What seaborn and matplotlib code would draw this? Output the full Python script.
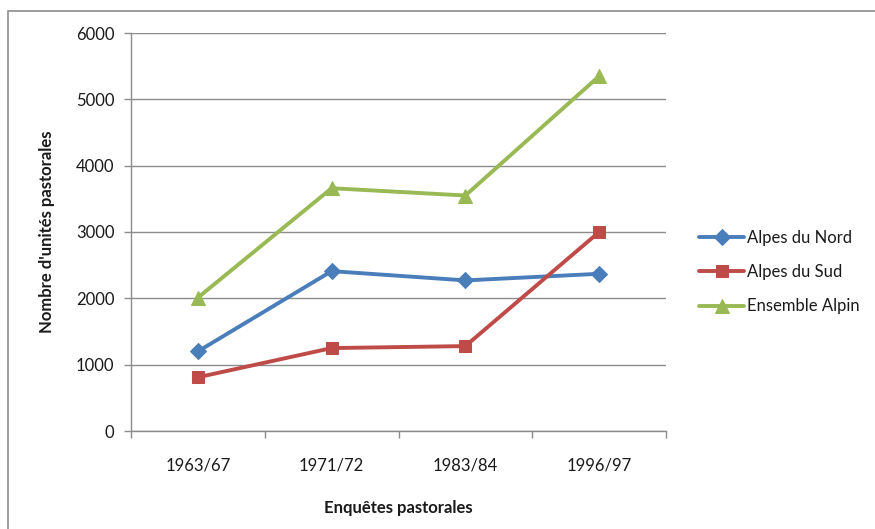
import matplotlib
matplotlib.use("Agg")
import matplotlib.pyplot as plt
import seaborn as sns
import pandas as pd
from matplotlib.patches import Rectangle

# Survey campaigns and headcounts of pastoral units
enquetes = ["1963/67", "1971/72", "1983/84", "1996/97"]
alpes_nord = [1200, 2410, 2270, 2370]
alpes_sud = [810, 1250, 1280, 3000]
ensemble_alpin = [2010, 3660, 3550, 5350]

series = ["Alpes du Nord", "Alpes du Sud", "Ensemble Alpin"]
couleurs = ["#4A7EBB", "#BE4B48", "#98B954"]
marqueurs = ["D", "s", "^"]
tailles = [8, 9, 10]

df = pd.DataFrame({
    "enquete": enquetes * 3,
    "x": list(range(len(enquetes))) * 3,
    "valeur": alpes_nord + alpes_sud + ensemble_alpin,
    "serie": [s for s in series for _ in enquetes],
})

sns.set_theme(style="white")
plt.rcParams["font.family"] = ["Lato", "DejaVu Sans"]
FS = 12

fig = plt.figure(figsize=(8.75, 5.29), dpi=100)
W, H = 875, 529
ax = fig.add_axes([131 / W, 1 - 431 / H, (666 - 131) / W, (431 - 33) / H])

for serie, c, m, ms in zip(series, couleurs, marqueurs, tailles):
    sub = df[df["serie"] == serie]
    sns.lineplot(data=sub, x="x", y="valeur", ax=ax, color=c, marker=m,
                 markersize=ms, markeredgecolor=c, linewidth=2.8,
                 label=serie, legend=False)

ax.set_xlim(-0.5, len(enquetes) - 0.5)
ax.set_ylim(0, 6000)
ax.set_yticks(range(0, 6001, 1000))
ax.yaxis.grid(True, color="#8c8c8c", linewidth=1)
ax.set_axisbelow(True)

# category labels centred in each band, tick marks on band boundaries
ax.set_xticks([i - 0.5 for i in range(len(enquetes) + 1)])
ax.set_xticklabels([])
ax.set_xticks(range(len(enquetes)), minor=True)
ax.set_xticklabels(enquetes, minor=True)
ax.tick_params(axis="x", which="major", length=5, color="#8c8c8c", width=1,
               direction="out", bottom=True)
ax.tick_params(axis="x", which="minor", length=0, pad=19, labelsize=FS,
               labelcolor="#1a1a1a")
ax.tick_params(axis="y", length=5, color="#8c8c8c", width=1, direction="out",
               left=True, pad=7, labelsize=FS, labelcolor="#1a1a1a")

for side in ["top", "right"]:
    ax.spines[side].set_visible(False)
for side in ["left", "bottom"]:
    ax.spines[side].set_color("#8c8c8c")
    ax.spines[side].set_linewidth(1)

ax.set_xlabel("Enquêtes pastorales", fontsize=FS, fontweight="bold",
              labelpad=19, color="#1a1a1a")
ax.set_ylabel("Nombre d'unités pastorales", fontsize=FS, fontweight="bold",
              labelpad=15, color="#1a1a1a")

leg = ax.legend(loc="center left", bbox_to_anchor=(684 / W, 1 - 272 / H),
                bbox_transform=fig.transFigure, frameon=False, fontsize=FS,
                handlelength=2.7, labelspacing=1.1, handletextpad=0.2)
for t in leg.get_texts():
    t.set_color("#1a1a1a")

# outer chart frame
fig.add_artist(Rectangle((8 / W, -0.05), 1.2, 1 - 11 / H + 0.05,
                         transform=fig.transFigure, fill=False,
                         edgecolor="#8c8c8c", linewidth=1.2))

fig.savefig("out.png", dpi=100, facecolor="white")
